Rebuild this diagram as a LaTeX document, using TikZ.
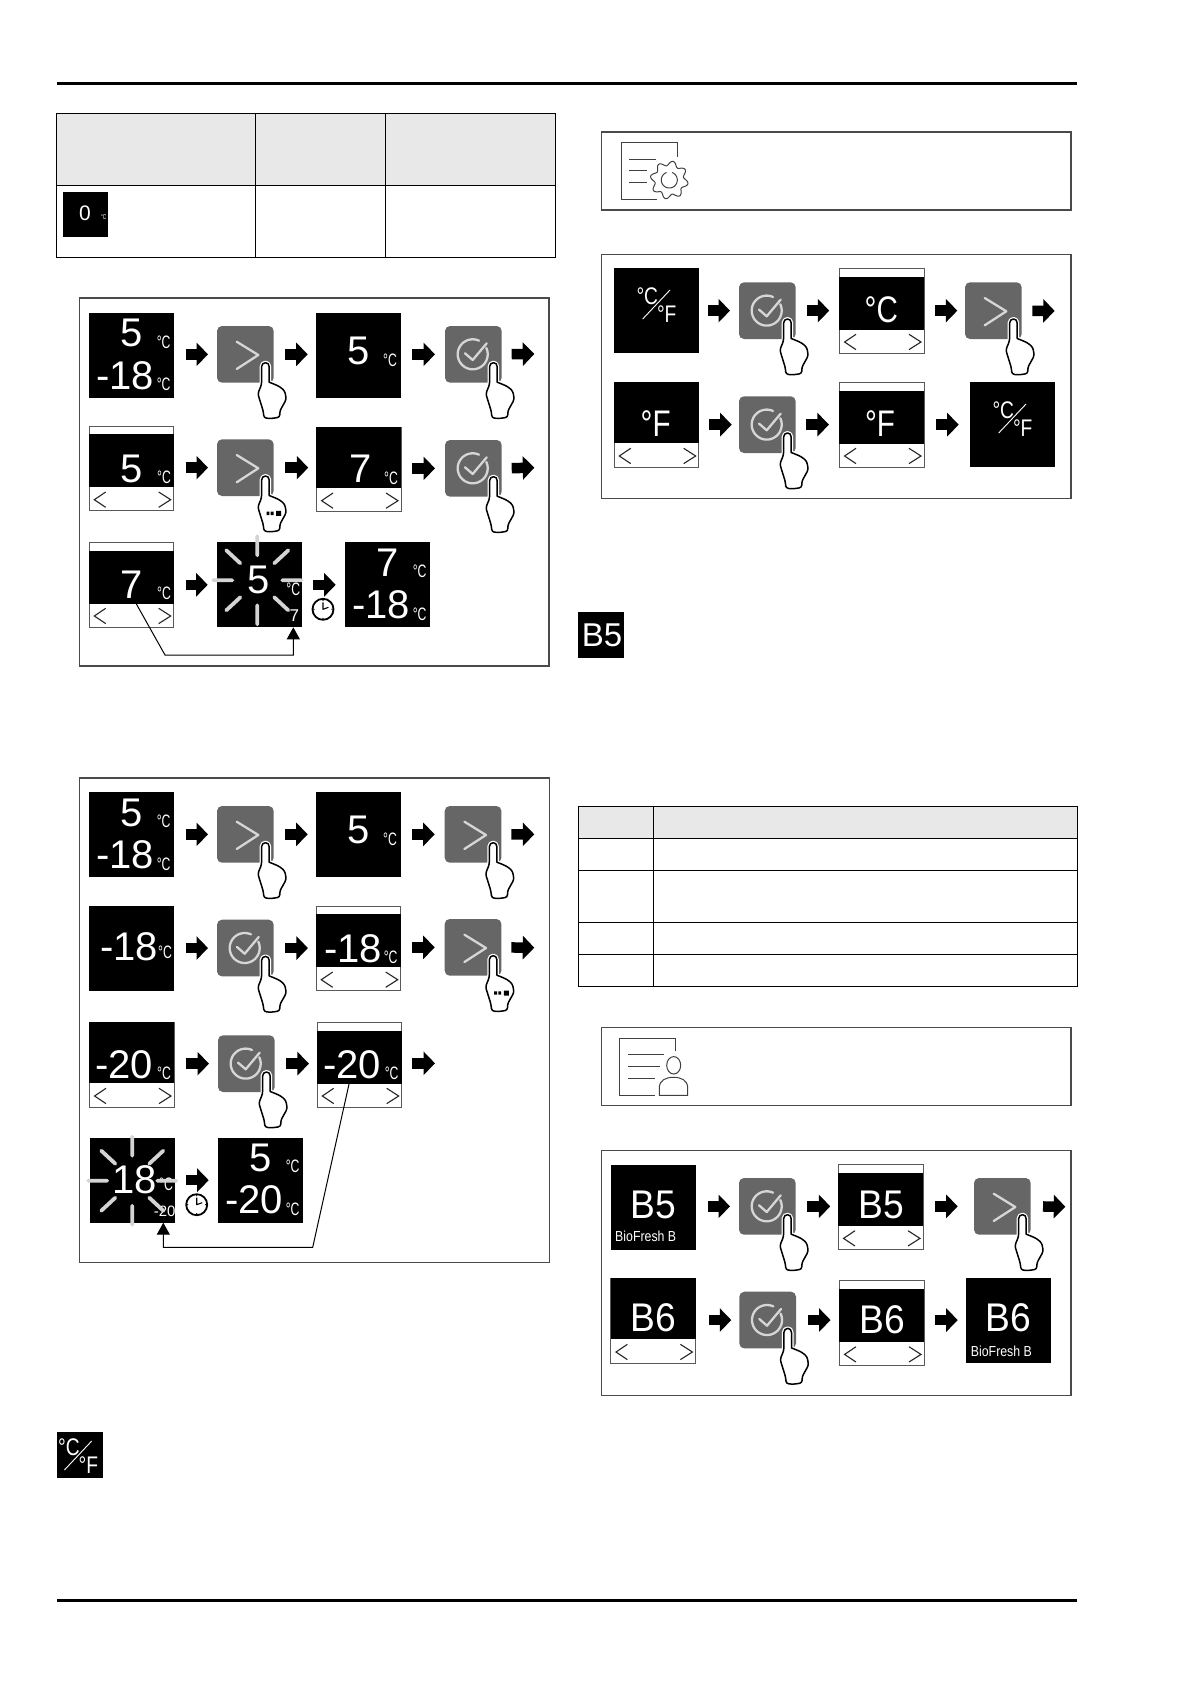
\documentclass[tikz,border=0pt]{standalone}
\usepackage{fontspec}
\setmainfont{Liberation Sans}
\newfontfamily\narrowf{Liberation Sans}[FakeStretch=0.68]
\newfontfamily\midf{Liberation Sans}[FakeStretch=0.8]
\newfontfamily\bcodef{Liberation Sans}[FakeStretch=0.93]
\newfontfamily\smallf{Liberation Sans}[FakeStretch=0.85]
\usetikzlibrary{arrows.meta,calc}
\newcounter{tn}
\tikzset{
 scrbox/.style={fill=black,draw=none,minimum size=85pt,inner sep=0,outer sep=0},
 selbox/.style={fill=white,draw=black!65,line width=1pt,minimum size=84.5pt,inner sep=0,outer sep=0},
 btnbox/.style={fill=btngray,draw=none,rounded corners=5pt,minimum size=56.7pt,inner sep=0,outer sep=0},
 scrt/.style={text=white,inner sep=0,outer sep=0,anchor=base},
 blockarr/.style={draw=black,line width=10.5pt,-{Triangle[length=11.5pt,width=23pt]}},
 framebox/.style={draw=framegray,line width=1.3pt},
 tabline/.style={draw=black,line width=1pt},
 head/.style={fill=headgray,draw=none},
 chev/.style={draw=black!85,line width=1.1pt},
 iconl/.style={draw=lightline,line width=2.3pt,line cap=round,line join=round},
 ray/.style={draw=raygray,line width=3.8pt,line cap=round},
 conn/.style={draw=black,line width=1pt},
 icon/.style={draw=black!75,line width=1pt},
}
\definecolor{btngray}{HTML}{666666}
\definecolor{framegray}{HTML}{4A4A4A}
\definecolor{headgray}{HTML}{E8E8E8}
\definecolor{lightline}{HTML}{D6D6D6}
\definecolor{raygray}{HTML}{D4D4D4}
% text helpers (coordinates relative to the current scope)
\newcommand{\tnode}[4]{\stepcounter{tn}\node[scrt,font=\fontsize{#3}{#3}\selectfont] (t\arabic{tn}) at (#1,#2) {#4};}
\newcommand{\bt}[3]{\tnode{#1}{#2}{40}{#3}}
\newcommand{\nt}[4]{\stepcounter{tn}\node[scrt,font=\narrowf\fontsize{#3}{#3}\selectfont] (t\arabic{tn}) at (#1,#2) {#4};}
\newcommand{\mt}[4]{\stepcounter{tn}\node[scrt,font=\midf\fontsize{#3}{#3}\selectfont] (t\arabic{tn}) at (#1,#2) {#4};}
\newcommand{\bc}[3]{\stepcounter{tn}\node[scrt,font=\bcodef\fontsize{40}{40}\selectfont] (t\arabic{tn}) at (#1,#2) {#3};}
\newcommand{\bio}[2]{\stepcounter{tn}\node[scrt,font=\smallf\fontsize{14.5}{14.5}\selectfont] (t\arabic{tn}) at (#1,#2) {BioFresh B};}
\newcommand{\cc}[2]{\nt{#1}{#2}{18}{°C}}
\newcommand{\twol}[2]{\bt{42.5}{33.7}{#1}\cc{74.7}{35}\bt{36}{76}{#2}\cc{74.7}{77.7}}
\newcommand{\cfsym}[2]{\begin{scope}[shift={(#1,#2)}]
 \draw[white,line width=.9pt] (35,9.7) -- (7.7,38.7);
 \mt{12.3}{23.7}{24}{°C}\mt{31.7}{42}{24}{°F}\end{scope}}
% screens
\newcommand{\scrn}[4]{\node[scrbox] (#1) at (#2+42.5,#3+42.5) {};
 \begin{scope}[shift={(#2,#3)}]#4\end{scope}}
\newcommand{\chevs}{%
 \draw[chev] (16.7,66) -- (5.3,73.7) -- (16.7,81.3);
 \draw[chev] (69.7,66) -- (81.7,73.7) -- (69.7,81.3);}
\newcommand{\seln}[4]{\node[selbox] (#1) at (#2+42.5,#3+42.5) {};
 \begin{scope}[shift={(#2,#3)}]\fill[black] (0,8.2) rectangle (85,61.2);\chevs #4\end{scope}}
\newcommand{\edn}[4]{\node[selbox] (#1) at (#2+42.5,#3+42.5) {};
 \begin{scope}[shift={(#2,#3)}]\fill[black] (0,0) rectangle (85,61);\chevs #4\end{scope}}
% buttons
\newcommand{\handshape}{(-3.9,4) .. controls (-3.9,1.5) and (-2,0) .. (0,0) .. controls (2,0) and (3.7,1.5) .. (3.7,4) -- (3.7,19.5) [rounded corners=2.5pt] -- (9.3,21.7) -- (14.3,24) -- (19.3,28.3) -- (20.8,36.7) -- (14.3,48.3) -- (14.3,54.5) -- (6,55.8) -- (-1.5,55.3) -- (-2.3,48.3) -- (-7.7,31) -- (-3.9,21.7) [sharp corners] -- cycle}
\newcommand{\hand}{\begin{scope}[shift={(48.5,36.7)}]
 \draw[white,line width=4pt,line join=round] \handshape;
 \draw[black,fill=white,line width=1.5pt,line join=round] \handshape;
 \end{scope}}
\newcommand{\dotsmark}{\begin{scope}[shift={(48.5,36.7)}]
 \fill[black] (1,35.6) rectangle (3.8,39) (5.2,35.6) rectangle (8,39) (10.6,34.8) rectangle (15.6,39.8);\end{scope}}
\newcommand{\chevmark}{\draw[iconl] (19.7,15.7) -- (41.3,29) -- (19.7,43);}
\newcommand{\checkmarkicon}{%
 \draw[iconl] plot[domain=-25:295,samples=50] ({27.7+15*cos(\x)},{28.3+15*sin(\x)});
 \draw[iconl] (20,27.3) -- (27.7,34) -- (41.7,17.3);}
\newcommand{\btn}[5]{\node[btnbox] (#1) at (#2+28.35,#3+28.35) {};
 \begin{scope}[shift={(#2,#3)}]#4\hand #5\end{scope}}
% connectors
\newcommand{\ba}[5]{\draw[blockarr,shorten <=#4pt,shorten >=#5pt] (#1.east |- #3.center) -- (#2.west |- #3.center);}
% flash rays around a centre
\newcommand{\rays}[2]{\begin{scope}[shift={(#1,#2)}]
 \draw[ray] (0,-44) -- (0,-25) (0,25) -- (0,44) (-44,0) -- (-25,0) (25,0) -- (44,0)
  (-31,-30) -- (-17,-17) (31,-30) -- (17,-17) (-31,30) -- (-17,17) (31,30) -- (17,17);
 \end{scope}}
\newcommand{\clk}[3]{\node[circle,draw=black,fill=white,line width=1.8pt,minimum size=21pt,inner sep=0] (#1) at (#2,#3) {};
 \begin{scope}[shift={(#2,#3)}]
 \draw[black,line width=1.1pt,line join=round] (0,-7) -- (0,0) -- (5.5,-2);
 \fill[black] (0,-9) circle (.7) (0,9) circle (.7) (-9,0) circle (.7) (9,0) circle (.7);
 \end{scope}}
\begin{document}
\begin{tikzpicture}[x=1pt,y=-1pt]
\useasboundingbox (0,0) rectangle (1191,1684);
\fill[white] (0,0) rectangle (1191,1684);
% page rules
\coordinate (ruleAl) at (57,83); \coordinate (ruleAr) at (1077,83);
\coordinate (ruleBl) at (57,1600); \coordinate (ruleBr) at (1077,1600);
\draw[black,line width=3pt] (ruleAl) -- (ruleAr);
\draw[black,line width=3pt] (ruleBl) -- (ruleBr);
% table 1
\fill[head] (56,113.7) rectangle (555.3,185.3);
\draw[tabline] (56,113.7) rectangle (555.3,257) (56,185.3) -- (555.3,185.3)
 (255.6,113.7) -- (255.6,257) (385.5,113.7) -- (385.5,257);
\node[fill=black,minimum size=45pt,inner sep=0] (tabscr) at (85.5,214.8) {};
\tnode{85}{220.7}{21}{0}
\nt{103.7}{219.3}{7}{°C}
% panel 1
\draw[framebox] (79.5,298) rectangle (549,666);
\scrn{pa}{89}{313}{\twol{5}{-18}}
\btn{pb}{217}{326}{\chevmark}{}
\scrn{pc}{316}{313}{\bt{42.3}{51}{5}\cc{74}{53}}
\btn{pd}{445}{326}{\checkmarkicon}{}
\coordinate (pe) at (534.3,354);
\ba{pa}{pb}{pb}{12}{9}\ba{pb}{pc}{pb}{11.3}{8.3}\ba{pc}{pd}{pb}{11}{10}
\draw[blockarr,shorten <=10pt] (pd.east) -- (pe);
\seln{qa}{89}{426}{\bt{42.7}{56.7}{5}\cc{75}{57}}
\btn{qb}{217}{439.3}{\chevmark}{\dotsmark}
\edn{qc}{316.3}{427}{\bt{44}{55.7}{7}\cc{74.7}{57}}
\btn{qd}{445}{440}{\checkmarkicon}{}
\coordinate (qe) at (534.3,467.7);
\ba{qa}{qb}{qb}{12}{9}\ba{qb}{qc}{qb}{11.3}{8.3}\ba{qc}{qd}{qd}{11}{10}
\draw[blockarr,shorten <=10pt] (qd.east) -- (qe);
\seln{ra}{89}{542.3}{\bt{43}{56}{7}\cc{75}{57}}
\scrn{rb}{216.7}{542.3}{\bt{42.3}{51}{5}\cc{76.6}{52.7}\tnode{77.6}{78.7}{17}{7}}
\rays{257.3}{580.3}
\scrn{rc}{345}{542.3}{\twol{7}{-18}}
\clk{rk}{323}{609.3}
\ba{ra}{rb}{rb}{12}{9}\ba{rb}{rc}{rb}{11}{9.3}
\coordinate (rs) at (136,603.3);\coordinate (rm) at (165,655);\coordinate (rn) at (293.3,655);
\draw[conn,-{Triangle[length=12pt,width=13pt]}] (rs) -- (rm) -- (rn) -- (rn |- rb.south);
% panel 2
\draw[framebox] (79.7,778) rectangle (549.3,1262.7);
\scrn{sa}{89}{792.3}{\twol{5}{-18}}
\btn{sb}{217}{806}{\chevmark}{}
\scrn{sc}{316}{792.3}{\bt{42.3}{51}{5}\cc{74}{53}}
\btn{sd}{444.7}{806}{\chevmark}{}
\coordinate (se) at (534.3,834.3);
\ba{sa}{sb}{sb}{12}{9}\ba{sb}{sc}{sb}{11.3}{8.3}\ba{sc}{sd}{sb}{11}{10}
\draw[blockarr,shorten <=10pt] (sd.east) -- (se);
\scrn{ua}{88.7}{906}{\bt{40.5}{54}{-18}\cc{76.3}{52.3}}
\btn{ub}{217}{919.7}{\checkmarkicon}{}
\seln{uc}{316}{906}{\bt{37.3}{56.7}{-18}\cc{74.7}{57}}
\btn{ud}{444.7}{919}{\chevmark}{\dotsmark}
\coordinate (ue) at (534.3,947.7);
\ba{ua}{ub}{ub}{12}{9}\ba{ub}{uc}{ub}{11.3}{8.3}\ba{uc}{ud}{ud}{11}{10}
\draw[blockarr,shorten <=10pt] (ud.east) -- (ue);
\edn{va}{89.3}{1022.3}{\bt{34.7}{56}{-20}\cc{74.7}{57}}
\btn{vb}{218}{1035.3}{\checkmarkicon}{}
\seln{vc}{317}{1022.3}{\bt{35}{56}{-20}\cc{74.7}{57}}
\coordinate (ve) at (435,1063.3);
\ba{va}{vb}{vb}{11.7}{9}\ba{vb}{vc}{vb}{11.3}{8.3}
\draw[blockarr,shorten <=10.7pt] (vc.east |- ve) -- (ve);
\scrn{wa}{90}{1137.7}{\bt{45}{55.6}{18}\cc{76}{53}\tnode{74.7}{78.3}{15}{-20}}
\rays{132.3}{1180.7}
\scrn{wb}{218}{1137.7}{\twol{5}{-20}}
\clk{wk}{196.7}{1204.7}
\ba{wa}{wb}{wa}{11}{9.3}
\coordinate (ws) at (349.3,1082.7);\coordinate (wm) at (312.7,1247.3);\coordinate (wn) at (163.3,1247.3);
\draw[conn,-{Triangle[length=12pt,width=13pt]}] (ws) -- (wm) -- (wn) -- (wn |- wa.south);
% small C/F icon bottom left
\node[fill=black,minimum size=46pt,inner sep=0] (cfa) at (79.7,1454.5) {};
\cfsym{56.7}{1431.3}
% right: info box 1
\draw[framebox] (601.3,132) rectangle (1071,210);
\draw[icon] (677.3,156.7) -- (677.3,142.7) -- (621,142.7) -- (621,199.3) -- (656.7,199.3);
\draw[icon] (629.3,159.3) -- (656,159.3) (629.3,170.7) -- (646.7,170.7) (629.3,182.3) -- (646.7,182.3);
\draw[icon,fill=white] plot[domain=0:360,samples=121,smooth cycle] ({669.3+(16.7+2.3*sin(8*\x))*cos(\x)},{180+(16.7+2.3*sin(8*\x))*sin(\x)});
\draw[icon] plot[domain=-70:250,samples=40] ({669.3+8*cos(\x)},{180+8*sin(\x)});
% panel 3
\draw[framebox] (601.3,254.7) rectangle (1071,498.3);
\scrn{xa}{614}{268.3}{\cfsym{21}{12}}
\btn{xb}{739}{282.3}{\checkmarkicon}{}
\seln{xc}{839.3}{268.3}{\mt{42}{54.3}{37}{°C}}
\btn{xd}{965}{282.3}{\chevmark}{}
\coordinate (xe) at (1054.7,311);
\ba{xa}{xb}{xb}{9}{9}\ba{xb}{xc}{xb}{11.3}{10.3}\ba{xc}{xd}{xb}{10.7}{7.7}
\draw[blockarr,shorten <=10.6pt] (xd.east) -- (xe);
\edn{ya}{614}{382.3}{\mt{41.7}{54.3}{37}{°F}}
\btn{yb}{739}{396.3}{\checkmarkicon}{}
\seln{yc}{839.3}{382.3}{\mt{40.7}{54.3}{37}{°F}}
\scrn{yd}{970}{382.3}{\cfsym{21}{12}}
\ba{ya}{yb}{yb}{10}{7.3}\ba{yb}{yc}{yb}{10.3}{10.6}\ba{yc}{yd}{yb}{11.7}{11.3}
% B5 badge
\node[fill=black,minimum size=46pt,inner sep=0] (b5) at (601.3,635) {};
\stepcounter{tn}\node[scrt,font=\fontsize{33}{33}\selectfont] (t\arabic{tn}) at (602,646) {B5};
% table 2
\fill[head] (578,806.3) rectangle (1077.3,838.3);
\draw[tabline] (578,806.3) rectangle (1077.3,986.3) (653,806.3) -- (653,986.3)
 (578,838.3) -- (1077.3,838.3) (578,870.3) -- (1077.3,870.3)
 (578,922.3) -- (1077.3,922.3) (578,954.3) -- (1077.3,954.3);
% info box 2
\draw[framebox] (601.3,1027.3) rectangle (1071,1105.7);
\draw[icon] (675.7,1050.7) -- (675.7,1038.3) -- (619.3,1038.3) -- (619.3,1095.3) -- (655,1095.3);
\draw[icon] (628.3,1054.7) -- (664.3,1054.7) (628.3,1066.3) -- (660,1066.3) (628.3,1078) -- (655,1078);
\draw[icon] (673.7,1065.3) ellipse (7 and 8.7);
\draw[icon] (659.3,1095.3) -- (659.3,1088) .. controls (659.3,1080) and (666,1077.3) .. (673.5,1077.3) .. controls (681,1077.3) and (687.7,1080) .. (687.7,1088) -- (687.7,1095.3) -- cycle;
% panel 4
\draw[framebox] (601.3,1150.3) rectangle (1071,1395.7);
\scrn{za}{610.7}{1164.7}{\bc{43}{53.7}{B5}\bio{35}{77}}
\btn{zb}{739}{1178}{\checkmarkicon}{}
\seln{zc}{838.3}{1164.7}{\bc{43.3}{53.7}{B5}}
\btn{zd}{974}{1178}{\chevmark}{}
\coordinate (ze) at (1065.3,1206.7);
\ba{za}{zb}{zb}{12}{9}\ba{zb}{zc}{zb}{11.6}{8.3}\ba{zc}{zd}{zb}{11.7}{16.3}
\draw[blockarr,shorten <=12.3pt] (zd.east) -- (ze);
\edn{ka}{610.7}{1278.3}{\bc{42.7}{53.3}{B6}}
\btn{kb}{739.3}{1291.7}{\checkmarkicon}{}
\seln{kc}{839.3}{1280.7}{\bc{43}{52.7}{B6}}
\scrn{kd}{965.7}{1278.3}{\bc{43}{53.3}{B6}\bio{35.7}{77.7}}
\ba{ka}{kb}{kb}{13.3}{8}\ba{kb}{kc}{kb}{11.7}{9}\ba{kc}{kd}{kb}{10.7}{8}
\end{tikzpicture}
\end{document}
